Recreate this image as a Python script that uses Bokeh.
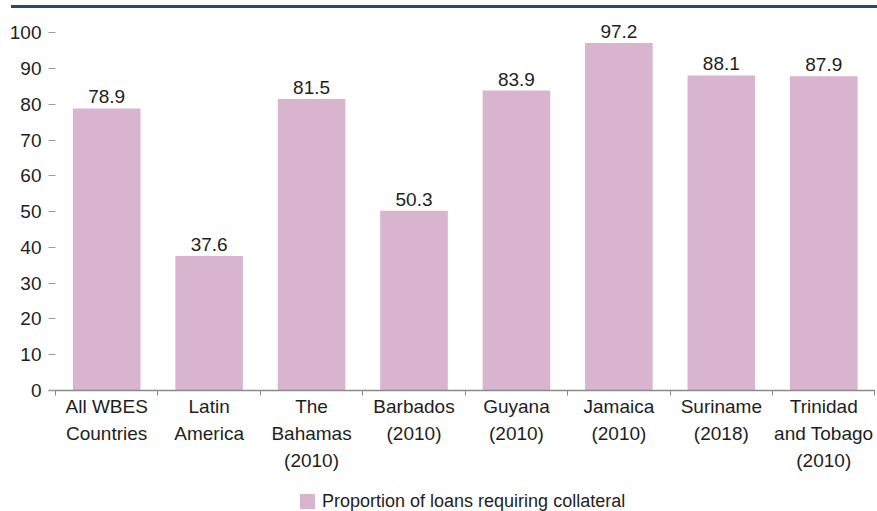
from bokeh.plotting import figure
from bokeh.models import ColumnDataSource, Range1d, FixedTicker, LabelSet, Div
from bokeh.core.properties import value
from bokeh.layouts import column
from bokeh.embed import file_html
from bokeh.resources import INLINE

categories = ["All WBES\nCountries", "Latin\nAmerica", "The\nBahamas\n(2010)",
              "Barbados\n(2010)", "Guyana\n(2010)", "Jamaica\n(2010)",
              "Suriname\n(2018)", "Trinidad\nand Tobago\n(2010)"]
values = [78.9, 37.6, 81.5, 50.3, 83.9, 97.2, 88.1, 87.9]
value_labels = ["78.9", "37.6", "81.5", "50.3", "83.9", "97.2", "88.1", "87.9"]
y_ticks = [0, 10, 20, 30, 40, 50, 60, 70, 80, 90, 100]
series_name = "Proportion of loans requiring collateral"

FONT = "Liberation Sans"
FS = "19px"
TXT = "#1e1e1e"
BAR = "#d9b4ce"

xs = list(range(len(categories)))
src = ColumnDataSource(dict(x=xs, top=values, lab=value_labels))

p = figure(frame_width=827, frame_height=374, output_backend="svg", toolbar_location=None,
           x_range=Range1d(-0.568, 7.505), y_range=Range1d(0, 104.6),
           min_border_top=3, min_border_left=48, min_border_right=0, min_border_bottom=97)
p.outline_line_color = None
p.grid.grid_line_color = None
p.background_fill_color = "white"

r = p.vbar(x="x", top="top", width=0.66, source=src, fill_color=BAR, line_color=None)

labels = LabelSet(x="x", y="top", text="lab", source=src, text_align="center",
                  text_baseline="alphabetic", y_offset=5, text_font_size=FS,
                  text_font=value(FONT), text_color=TXT)
p.add_layout(labels)

# x axis
bounds = [i - 0.5 for i in range(len(categories) + 1)]
p.xaxis.ticker = FixedTicker(ticks=xs, minor_ticks=bounds)
p.xaxis.major_label_overrides = {i: c for i, c in enumerate(categories)}
p.xaxis.major_tick_out = 0
p.xaxis.major_tick_in = 0
p.xaxis.minor_tick_out = 5
p.xaxis.minor_tick_in = 0
p.xaxis.minor_tick_line_color = "#8a8a8a"
p.xaxis.axis_line_color = "#8a8a8a"
p.xaxis.axis_line_width = 1.3
p.xaxis.major_label_text_font = FONT
p.xaxis.major_label_text_font_size = FS
p.xaxis.major_label_text_color = TXT
p.xaxis.major_label_text_line_height = 1.3
p.xaxis.major_label_standoff = 0

# y axis
p.yaxis.ticker = FixedTicker(ticks=y_ticks)
p.yaxis.axis_line_color = None
p.yaxis.major_tick_in = 7
p.yaxis.major_tick_out = 0
p.yaxis.major_tick_line_color = "#9a9a9a"
p.yaxis.minor_tick_line_color = None
p.yaxis.major_label_text_font = FONT
p.yaxis.major_label_text_font_size = FS
p.yaxis.major_label_text_color = TXT
p.yaxis.major_label_standoff = 7

top_line = Div(width=875, height=3,
               styles={"background": "linear-gradient(to right, transparent 6px, #234a68 6px)"})

legend_html = (
    f'<div style="padding-left:295px;font-family:{FONT};font-size:18px;color:{TXT};'
    f'line-height:18px;white-space:nowrap;">'
    f'<span style="display:inline-block;width:15px;height:15px;background:{BAR};'
    f'vertical-align:-2px;margin-right:7px;"></span>{series_name}</div>'
)
legend_div = Div(text=legend_html, width=875, height=18)

layout = column(top_line, p, legend_div, spacing=0)
open("out.html", "w").write(file_html(layout, INLINE))
